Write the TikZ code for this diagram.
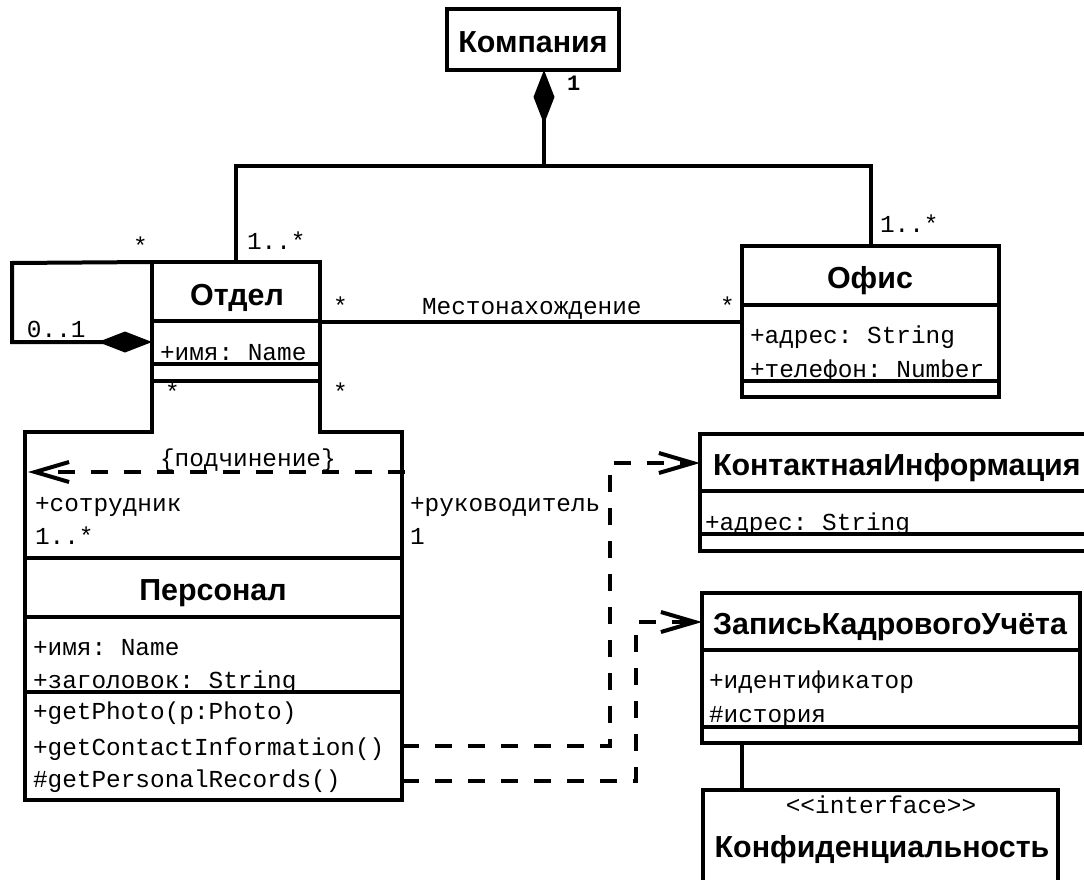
\documentclass[tikz,border=0pt]{standalone}
\usepackage{fontspec}
\setmainfont{Liberation Sans}
\newfontfamily\monof{Liberation Mono}
\usetikzlibrary{arrows.meta}
\tikzset{diam/.tip={Diamond[length=54pt,width=21pt]}}
\frenchspacing
\begin{document}
\begin{tikzpicture}[x=1pt,y=-1pt,
  every node/.style={inner sep=0pt, outer sep=0pt},
  box/.style={draw, line width=4pt, anchor=north west},
  sepline/.style={line width=4pt},
  title/.style={font=\fontsize{30.4}{36}\selectfont\bfseries, anchor=base},
  titlew/.style={font=\fontsize{30.4}{36}\selectfont\bfseries, anchor=base west},
  mono/.style={font=\monof\fontsize{24.4}{28}\selectfont, anchor=base west},
  monoc/.style={font=\monof\fontsize{24.4}{28}\selectfont, anchor=base},
  conn/.style={line width=4pt},
  comp/.style={line width=4pt},
  dep/.style={line width=4pt, dash pattern=on 17pt off 16pt, -{Straight Barb[length=34pt,width=20pt]}}
]
\useasboundingbox (0,0) rectangle (1084,880);
\clip (0,0) rectangle (1084,880);

% ---------- Компания ----------
\node[box, minimum width=172pt, minimum height=61pt] (komp) at (447,9) {};
\node[title] (kompT) at (533,53) {Компания};
\node[font=\monof\bfseries\fontsize{22}{24}\selectfont, anchor=base west] (kompM) at (567,91) {1};

% ---------- Отдел ----------
\node[box, minimum width=168pt, minimum height=119pt] (otdel) at (152,262) {};
\draw[sepline] (152,321) -- (320,321);
\node[title] (otdelT) at (237,305) {Отдел};
\node[mono] (otdelA) at (160,360) {+имя: Name};
\draw[sepline] (152,364) -- (320,364);

% ---------- Офис ----------
\node[box, minimum width=257pt, minimum height=151pt] (ofis) at (742,246) {};
\draw[sepline] (742,305) -- (999,305);
\node[title] (ofisT) at (870,288) {Офис};
\node[mono] (ofisA1) at (750,343) {+адрес: String};
\node[mono] (ofisA2) at (750,377) {+телефон: Number};
\draw[sepline] (742,381) -- (999,381);

% ---------- Персонал ----------
\node[minimum width=377pt, minimum height=368pt, anchor=north west] (pers) at (25,432) {};
\coordinate (pl) at (152,432);
\coordinate (pr) at (320,432);
\draw[conn] (otdel.south west) -- (pl) -- (pers.north west) -- (pers.south west)
  -- (pers.south east) -- (pers.north east) -- (pr) -- (otdel.south east);
\node[mono] (podT) at (160,466) {\{подчинение\}};
\coordinate (podS) at (405,472);
\coordinate (podE) at (28,472);
\draw[dep] (podS) -- (podE);
\node[mono] (rol1) at (35,511) {+сотрудник};
\node[mono] (rol1m) at (35,544) {1..*};
\node[mono] (rol2) at (410,511) {+руководитель};
\node[mono] (rol2m) at (410,544) {1};
\draw[sepline] (25,558) -- (402,558);
\node[title] (persT) at (213,600) {Персонал};
\draw[sepline] (25,617) -- (402,617);
\node[mono] (persA1) at (33,655) {+имя: Name};
\node[mono] (persA2) at (33,688) {+заголовок: String};
\draw[sepline] (25,692) -- (402,692);
\node[mono] (persO1) at (33,719) {+getPhoto(p:Photo)};
\node[mono] (persO2) at (33,755) {+getContactInformation()};
\node[mono] (persO3) at (33,787) {\#getPersonalRecords()};

% ---------- КонтактнаяИнформация ----------
\node[box, minimum width=386pt, minimum height=117pt] (kont) at (700,434) {};
\node[titlew] (kontT) at (713,475) {КонтактнаяИнформация};
\draw[sepline] (700,491) -- (1086,491);
\node[mono] (kontA) at (705,530) {+адрес: String};
\draw[sepline] (700,534) -- (1086,534);

% ---------- ЗаписьКадровогоУчёта ----------
\node[box, minimum width=378pt, minimum height=150pt] (zap) at (702,593) {};
\node[title] (zapT) at (890,634) {ЗаписьКадровогоУчёта};
\draw[sepline] (702,650) -- (1080,650);
\node[mono] (zapA1) at (709,688) {+идентификатор};
\node[mono] (zapA2) at (709,722) {\#история};
\draw[sepline] (702,727) -- (1080,727);

% ---------- Конфиденциальность ----------
\node[box, minimum width=355pt, minimum height=100pt] (konf) at (703,790) {};
\node[monoc] (konfS) at (881,813) {<\kern0pt<interface>\kern0pt>};
\node[title] (konfT) at (882,857) {Конфиденциальность};

% ---------- connectors ----------
% composition Компания
\coordinate (j1) at (544,166);
\draw[comp, diam-] ([xshift=11pt]komp.south) -- (j1);
\draw[conn] (otdel.north) |- (j1) -| (ofis.north);
\node[mono] (m1) at (247,249) {1..*};
\node[mono] (m2) at (880,232) {1..*};

% self composition Отдел
\coordinate (sa1) at (12,263);
\coordinate (sa2) at (12,342);
\coordinate (sa3) at (152,342);
\draw[conn, -diam] (otdel.north west) -- (sa1) -- (sa2) -- (sa3);
\node[mono] (m3) at (133,254) {*};
\node[mono] (m4) at (27,337) {0..1};

% Местонахождение
\draw[conn] (otdel.east) -- (otdel.east -| ofis.west);
\node[mono] (m5) at (333,314) {*};
\node[mono] (locT) at (422,314) {Местонахождение};
\node[mono] (m6) at (720,314) {*};

% Отдел -- Персонал multiplicities
\node[mono] (m7) at (165,400) {*};
\node[mono] (m8) at (333,400) {*};

% dependencies
\coordinate (d1s) at (402,746);
\coordinate (d1c) at (610,463);
\draw[dep] (d1s) -| (d1c) -- (d1c -| kont.west);
\coordinate (d2s) at (402,781);
\coordinate (d2c) at (636,622);
\draw[dep] (d2s) -| (d2c) -- (d2c -| zap.west);

% Запись -- Конфиденциальность
\draw[conn] ([xshift=40pt]zap.south west) -- ([xshift=39pt]konf.north west);
\end{tikzpicture}
\end{document}
